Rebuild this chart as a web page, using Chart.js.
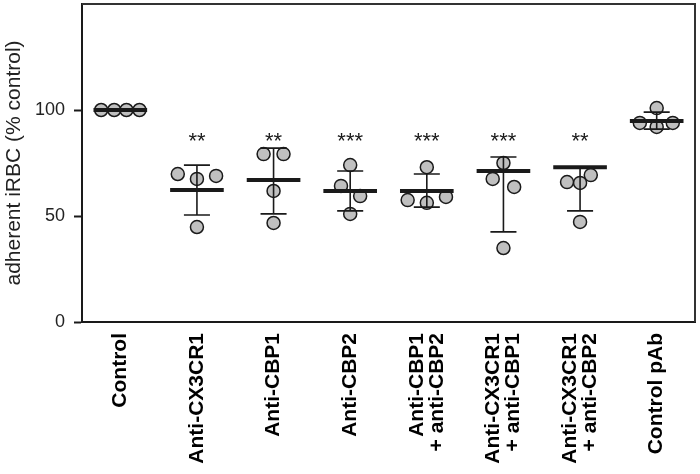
<!DOCTYPE html>
<html lang="en">
<head>
  <meta charset="UTF-8">
  <title>Adherent iRBC</title>
  <script src="https://cdn.jsdelivr.net/npm/chart.js@4.4.0/dist/chart.umd.min.js"></script>
  <style>
    body { margin: 0; background: #ffffff; }
    .chart-container { width: 700px; height: 474px; }
  </style>
</head>
<body>
  <div class="chart-container">
    <canvas id="adhesion-chart" width="700" height="474"></canvas>
  </div>

  <script>
    // categories (multi-line labels)
    const groups = [
      ['Control'],
      ['Anti-CX3CR1'],
      ['Anti-CBP1'],
      ['Anti-CBP2'],
      ['Anti-CBP1', '+ anti-CBP2'],
      ['Anti-CX3CR1', '+ anti-CBP1'],
      ['Anti-CX3CR1', '+ anti-CBP2'],
      ['Control pAb']
    ];

    // individual replicates, % of control
    const control = [100, 100, 100, 100];
    const antiCX3CR1 = [69.8, 67.5, 68.9, 44.8];
    const antiCBP1 = [79.2, 79.2, 61.8, 46.7];
    const antiCBP2 = [74, 64.2, 59.4, 51];
    const cbp1PlusCbp2 = [73, 57.5, 56.2, 59];
    const cx3cr1PlusCbp1 = [75, 67.5, 63.7, 34.9];
    const cx3cr1PlusCbp2 = [66, 65.6, 69.3, 47.2];
    const controlPAb = [100.9, 93.9, 92, 93.9];
    const replicates = [control, antiCX3CR1, antiCBP1, antiCBP2,
                        cbp1PlusCbp2, cx3cr1PlusCbp1, cx3cr1PlusCbp2, controlPAb];

    // summary line and error bar ends as plotted
    const means = [100, 62.3, 67, 61.8, 61.8, 71.2, 73, 94.8];
    const errHigh = [100, 74, 82, 71.2, 69.8, 77.8, 73, 99];
    const errLow = [100, 50.5, 51, 52.4, 54.2, 42.5, 52.4, 91];

    // significance marks
    const stars = ['', '**', '**', '***', '***', '***', '**', ''];
    const starLevel = 87.5;

    const yTicks = [0, 50, 100];

    // horizontal scatter of the dots inside a column (fraction of a category)
    const jitter = [
      [-0.25, -0.08, 0.08, 0.25],
      [-0.25, 0, 0.25, 0],
      [-0.13, 0.13, 0, 0],
      [0, -0.12, 0.13, 0],
      [0, -0.25, 0, 0.25],
      [0, -0.14, 0.14, 0],
      [-0.17, 0, 0.14, 0],
      [0, -0.22, 0, 0.21]
    ];

    const ink = '#1a1a1a';
    const FONT = "'Liberation Sans', Arial, sans-serif";

    const points = [];
    replicates.forEach((vals, i) => {
      vals.forEach((v, j) => points.push({ x: i + jitter[i][j], y: v }));
    });

    // mean line, SD bars, asterisks, frame and rotated category labels
    const overlay = {
      id: 'overlay',
      afterDatasetsDraw(chart) {
        const ctx = chart.ctx;
        const xs = chart.scales.x;
        const ys = chart.scales.y;
        const area = chart.chartArea;
        ctx.save();
        ctx.strokeStyle = ink;
        ctx.lineCap = 'butt';

        means.forEach((m, i) => {
          const cx = xs.getPixelForValue(i);
          const half = xs.getPixelForValue(i + 0.35) - cx;
          const cap = xs.getPixelForValue(i + 0.17) - cx;
          if (errHigh[i] !== errLow[i]) {
            const yt = ys.getPixelForValue(errHigh[i]);
            const yb = ys.getPixelForValue(errLow[i]);
            ctx.lineWidth = 1.6;
            ctx.beginPath();
            ctx.moveTo(cx, yt); ctx.lineTo(cx, yb);
            ctx.moveTo(cx - cap, yt); ctx.lineTo(cx + cap, yt);
            ctx.moveTo(cx - cap, yb); ctx.lineTo(cx + cap, yb);
            ctx.stroke();
          }
          const ym = ys.getPixelForValue(m);
          ctx.lineWidth = 4;
          ctx.beginPath();
          ctx.moveTo(cx - half, ym); ctx.lineTo(cx + half, ym);
          ctx.stroke();
        });

        ctx.fillStyle = ink;
        ctx.font = '22px ' + FONT;
        ctx.textAlign = 'center';
        ctx.textBaseline = 'middle';
        stars.forEach((s, i) => {
          if (!s) return;
          ctx.fillText(s, xs.getPixelForValue(i), ys.getPixelForValue(starLevel) + 5);
        });

        // top and right frame
        ctx.lineWidth = 2;
        ctx.strokeStyle = '#333';
        ctx.beginPath();
        ctx.moveTo(area.left, area.top);
        ctx.lineTo(area.right, area.top);
        ctx.lineTo(area.right, area.bottom);
        ctx.stroke();

        // category labels, rotated
        ctx.fillStyle = '#000';
        ctx.font = 'bold 21px ' + FONT;
        ctx.textAlign = 'right';
        const lh = 20;
        groups.forEach((lines, i) => {
          const cx = xs.getPixelForValue(i);
          ctx.save();
          ctx.translate(cx, area.bottom + 11);
          ctx.rotate(-Math.PI / 2);
          lines.forEach((t, j) => {
            ctx.fillText(t, 0, (j - (lines.length - 1) / 2) * lh);
          });
          ctx.restore();
        });
        ctx.restore();
      }
    };

    const ctx = document.getElementById('adhesion-chart').getContext('2d');
    const chart = new Chart(ctx, {
      type: 'scatter',
      data: {
        datasets: [{
          label: 'adherent iRBC',
          data: points,
          backgroundColor: '#c0c0c0',
          borderColor: ink,
          borderWidth: 1.5,
          pointRadius: 6.5,
          clip: false
        }]
      },
      options: {
        responsive: false,
        animation: false,
        layout: { autoPadding: false, padding: { top: 4, right: 5, left: 0, bottom: 0 } },
        plugins: {
          legend: { display: false },
          tooltip: { enabled: false }
        },
        scales: {
          x: {
            type: 'linear',
            min: -0.5,
            max: 7.5,
            ticks: { display: false },
            grid: { display: false },
            border: { display: true, color: ink, width: 2 },
            afterFit: s => { s.height = 152; s.paddingLeft = 0; s.paddingRight = 0; }
          },
          y: {
            min: 0,
            max: 150,
            afterBuildTicks: s => { s.ticks = yTicks.map(v => ({ value: v })); },
            ticks: {
              color: '#222',
              font: { family: FONT, size: 18 },
              padding: 9
            },
            grid: {
              drawOnChartArea: false,
              tickLength: 8,
              tickWidth: 2,
              color: ink
            },
            border: { display: true, color: ink, width: 2 },
            title: {
              display: true,
              text: 'adherent iRBC (% control)',
              color: '#222',
              font: { family: FONT, size: 21 },
              padding: { top: 2, bottom: 0 }
            },
            afterFit: s => { s.width = 82; s.paddingTop = 0; s.paddingBottom = 0; }
          }
        }
      },
      plugins: [overlay]
    });
  </script>
</body>
</html>
